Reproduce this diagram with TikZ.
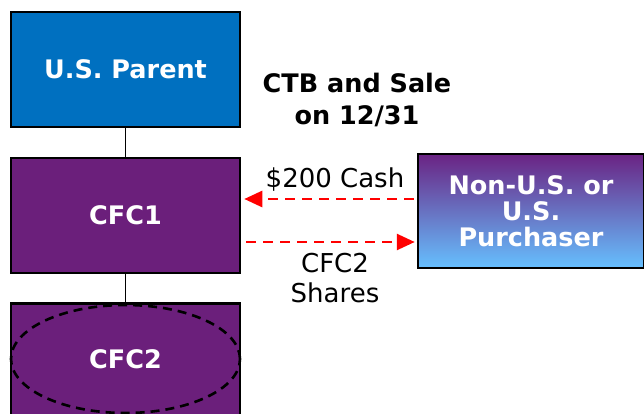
\documentclass[tikz,border=0pt]{standalone}
\usepackage{fontspec}
\setmainfont{DejaVu Sans}
\usetikzlibrary{arrows.meta,shapes.geometric}
\definecolor{parentblue}{HTML}{0070C0}
\definecolor{cfcpurple}{HTML}{6B1F7B}
\definecolor{gradtop}{HTML}{6A2383}
\definecolor{gradbot}{HTML}{66C0FF}
\tikzset{
  box/.style={draw=black, line width=2.5pt, minimum width=229pt, minimum height=115pt, inner sep=0pt, text=white, font=\fontsize{25.5}{27}\selectfont\bfseries, align=center},
  flow/.style={red, line width=2.6pt, dash pattern=on 10pt off 7pt, -{Triangle[length=18pt,width=16pt]}},
  lbl/.style={font=\fontsize{26}{30}\selectfont, align=center, inner sep=0pt},
}
\begin{document}
\begin{tikzpicture}[x=1pt,y=-1pt]
\clip (0,0) rectangle (644,414);
\useasboundingbox (0,0) rectangle (644,414);
\fill[white] (0,0) rectangle (644,414);
\node[box, fill=parentblue] (parent) at (125.5,69.5) {U.S. Parent};
\node[box, fill=cfcpurple] (cfc1) at (125.5,215.5) {CFC1};
\node[box, fill=cfcpurple, minimum height=130pt, anchor=north] (cfc2) at (125.5,302) {};
\node[draw=black, dash pattern=on 9pt off 6pt, line width=2.6pt, ellipse, minimum width=229pt, minimum height=108pt, inner sep=0pt, text=white, font=\fontsize{25.5}{27}\selectfont\bfseries] (ell) at (125.5,359) {CFC2};
\draw[line width=1.2pt] (parent.south) -- (cfc1.north);
\draw[line width=1.2pt] (cfc1.south) -- (cfc2.north);
\node[box, top color=gradtop, bottom color=gradbot, minimum width=226pt, minimum height=114pt] (buyer) at (531,211) {Non-U.S. or\\[-1pt]U.S.\\[-1pt]Purchaser};
\node[lbl, font=\fontsize{25.5}{32}\selectfont\bfseries] (ctb) at (357,100) {CTB and Sale\\on 12/31};
\coordinate (a1s) at (buyer.west |- 0,199);
\coordinate (a1e) at (cfc1.east |- 0,199);
\coordinate (a2s) at (cfc1.east |- 0,242);
\coordinate (a2e) at (buyer.west |- 0,242);
\draw[flow] ([xshift=-3pt]a1s) -- ([xshift=3pt]a1e);
\draw[flow] ([xshift=5pt]a2s) -- ([xshift=-2pt]a2e);
\node[lbl] (cash) at (335,180) {\$200 Cash};
\node[lbl] (shares) at (335,278) {CFC2\\Shares};
\end{tikzpicture}
\end{document}
